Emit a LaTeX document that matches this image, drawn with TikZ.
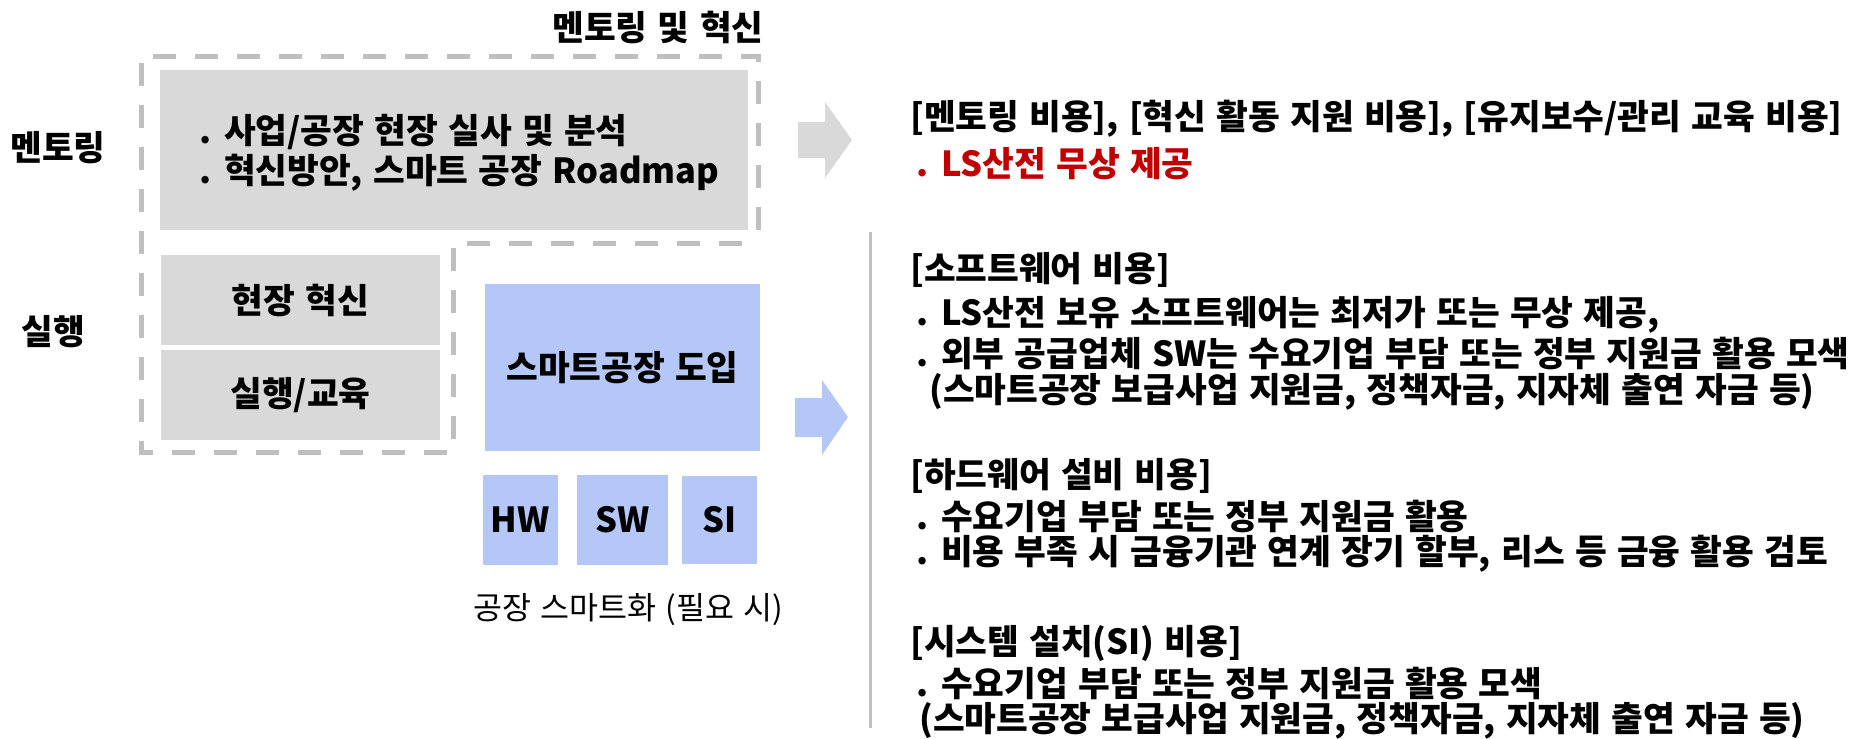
\documentclass[tikz,border=0pt]{standalone}
\usepackage{fontspec}
\setmainfont{Noto Sans CJK KR}[WordSpace=1.3]
\usetikzlibrary{positioning}

\definecolor{boxgrey}{RGB}{217,217,217}
\definecolor{dashgrey}{RGB}{191,191,191}
\definecolor{smartblue}{RGB}{180,199,247}
\definecolor{freered}{RGB}{192,0,0}

\begin{document}
\begin{tikzpicture}[x=1pt,y=-1pt,
  every node/.style={inner sep=0pt,font=\fontsize{34.5}{40}\selectfont\bfseries},
  greybox/.style={fill=boxgrey},
  bluebox/.style={fill=smartblue},
  dashline/.style={dashgrey,line width=5pt,dash pattern=on 23pt off 19pt},
  plaintext/.style={font=\fontsize{31.5}{36}\selectfont}]

\useasboundingbox (0,0) rectangle (1875,739);

% the boxes on the left
\node[greybox,minimum width=588,minimum height=160] (mentorbox) at (454,150) {};
\node[anchor=west,align=left] (mentortext) at ([xshift=39pt,yshift=-3pt]mentorbox.west)
  {. 사업/공장 현장 실사 및 분석\\. 혁신방안, 스마트 공장 Roadmap};

\node[greybox,minimum width=279,minimum height=90] (sitebox) at (300.5,300) {현장 혁신};
\node[greybox,minimum width=279,minimum height=90,below=5pt of sitebox] (trainbox) {실행/교육};

\node[bluebox,minimum width=275,minimum height=167] (smartbox) at (622.5,367.5) {스마트공장 도입};
\node[bluebox,minimum width=91,minimum height=90] (swbox) at (622.5,520) {SW};
\node[bluebox,minimum width=75,minimum height=90,left=19pt of swbox] (hwbox) {HW};
\node[bluebox,minimum width=75,minimum height=88,right=14pt of swbox] (sibox) {SI};
\node[plaintext] (smartnote) at (628,610) {공장 스마트화 (필요 시)};

% the labels
\node (mentortitle) at (658,27) {멘토링 및 혁신};
\node (mentorlabel) at (58,148) {멘토링};
\node (runlabel) at (53,332) {실행};

% draw the dashed frames
\draw[dashline] (758,230) -- (758,56) -- (141,56) -- (141,452) -- (453,452) -- (453,243) -- (761,243);

% the two block arrows and the divider
\fill[boxgrey] (798,122) -- (825,122) -- (825,102) -- (852,140) -- (825,178) -- (825,158) -- (798,158) -- cycle;
\fill[smartblue] (795,398) -- (822,398) -- (822,380) -- (848,417) -- (822,455) -- (822,437) -- (795,437) -- cycle;
\draw[dashgrey,line width=3pt] (870,232) -- (870,728);

% the cost notes on the right
\foreach \xx/\yy/\col/\txt [count=\i] in {
  910/119/black/{[멘토링 비용], [혁신 활동 지원 비용], [유지보수/관리 교육 비용]},
  916/164/freered/{. LS산전 무상 제공},
  910/270/black/{[소프트웨어 비용]},
  916/315/black/{. LS산전 보유 소프트웨어는 최저가 또는 무상 제공,},
  916/353/black/{. 외부 공급업체 SW는 수요기업 부담 또는 정부 지원금 활용 모색},
  929/392/black/{(스마트공장 보급사업 지원금, 정책자금, 지자체 출연 자금 등)},
  910/476/black/{[하드웨어 설비 비용]},
  916/516/black/{. 수요기업 부담 또는 정부 지원금 활용},
  916/554/black/{. 비용 부족 시 금융기관 연계 장기 할부, 리스 등 금융 활용 검토},
  910/643/black/{[시스템 설치(SI) 비용]},
  916/683/black/{. 수요기업 부담 또는 정부 지원금 활용 모색},
  919/721/black/{(스마트공장 보급사업 지원금, 정책자금, 지자체 출연 자금 등)}}
  \node[anchor=west,text=\col] (cost\i) at (\xx,\yy) {\txt};

\end{tikzpicture}
\end{document}
